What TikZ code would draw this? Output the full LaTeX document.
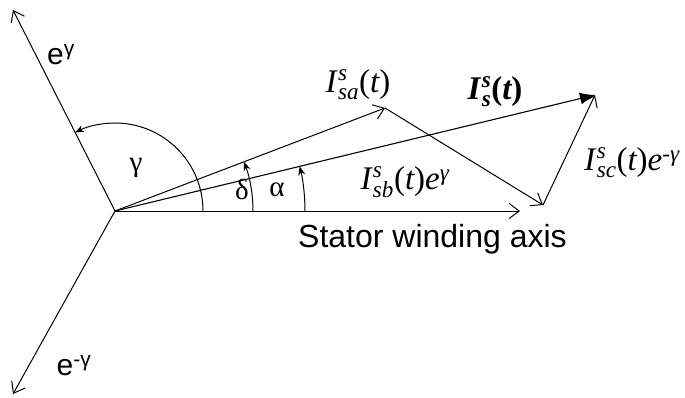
\documentclass[tikz,border=0pt]{standalone}
\usepackage{fontspec}
\usepackage{amsmath}
\setmainfont{Liberation Sans}
\newfontfamily\tms{Liberation Serif}
\usetikzlibrary{arrows.meta}
\newcommand\ti[1]{\text{\tms\itshape #1}}
\newcommand\tb[1]{\text{\tms\bfseries\itshape #1}}
\newcommand\tu[1]{\text{\tms #1}}
\newcommand\tub[1]{\text{\tms\bfseries #1}}
\begin{document}
\begin{tikzpicture}[x=1pt,y=1pt,
  vec/.style={line width=1pt,-{Straight Barb[length=10pt,width=15pt,line width=1pt]}},
  mainvec/.style={line width=1.1pt,-{Latex[length=15pt,width=12pt]}},
  angarc/.style={line width=1pt,-{Stealth[length=9pt,width=7pt]}},
  lab/.style={inner sep=0pt,font=\fontsize{30}{32}\selectfont},
  axlab/.style={inner sep=0pt,font=\fontsize{32}{34}\selectfont},
  mlab/.style={inner sep=0pt,font=\fontsize{33}{36}\selectfont},
  glab/.style={inner sep=0pt,font=\fontsize{29}{30}\selectfont\tms}]
\useasboundingbox (0,0) rectangle (685,397);
\coordinate (O) at (115,186);
\coordinate (E1) at (13,387);
\coordinate (E2) at (13,3);
\coordinate (X) at (520,186);
\coordinate (A) at (385,289);
\coordinate (B) at (543,192);
\coordinate (S) at (595,302);
% vectors
\draw[vec] (O) -- (E1);
\draw[vec] (O) -- (E2);
\draw[vec] (O) -- (X);
\draw[vec] (O) -- (A);
\draw[vec] (A) -- (B);
\draw[vec] (B) -- (S);
\draw[mainvec] (O) -- (S);
% angle arcs
\draw[angarc] ([shift={(0:88)}]O) arc[start angle=0,end angle=117,radius=88];
\draw[angarc] ([shift={(0:138)}]O) arc[start angle=0,end angle=20.9,radius=138];
\draw[angarc] ([shift={(0:190)}]O) arc[start angle=0,end angle=13.6,radius=190];
% labels
\node[lab] (le1) at (61,342) {e\textsuperscript{γ}};
\node[lab] (le2) at (74,31) {e\textsuperscript{-γ}};
\node[glab] (lg) at (136,229) {γ};
\node[glab] (ld) at (242,207) {δ};
\node[glab] (la) at (277,207) {α};
\node[mlab] (lsa) at (358,312) {$\ti{I}^{\mkern1mu\ti{s}}_{\mkern1mu\ti{sa}}\tu{(}\ti{t}\tu{)}$};
\node[mlab] (ls) at (495,305) {$\tb{I}^{\mkern1mu\tb{s}}_{\mkern1mu\tb{s}}\tub{(}\tb{t}\tub{)}$};
\node[mlab] (lsb) at (405,215) {$\ti{I}^{\mkern1mu\ti{s}}_{\mkern1mu\ti{sb}}\tu{(}\ti{t}\tu{)}\ti{e}^{\ti{γ}}$};
\node[mlab] (lsc) at (632,234) {$\ti{I}^{\mkern1mu\ti{s}}_{\mkern1mu\ti{sc}}\tu{(}\ti{t}\tu{)}\ti{e}^{\tu{-}\ti{γ}}$};
\node[axlab,anchor=base west] (lax) at (298,150) {Stator winding axis};
\end{tikzpicture}
\end{document}
